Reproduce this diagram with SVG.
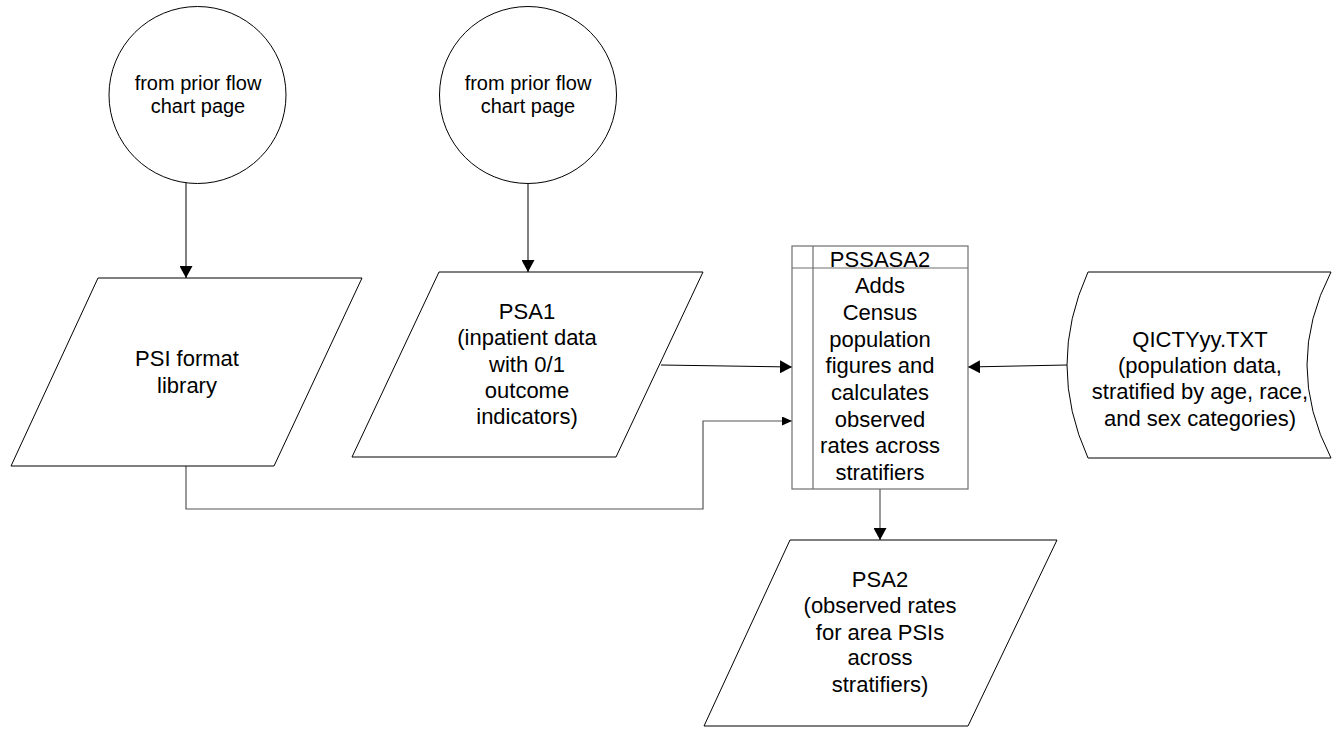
<svg xmlns="http://www.w3.org/2000/svg" width="1336" height="729" viewBox="0 0 1336 729">
<style>
.shape{fill:#fff;stroke:#000;stroke-width:1}
.gshape{fill:#fff;stroke:#6e6e6e;stroke-width:1.2}
.conn{fill:none;stroke:#000;stroke-width:1}
.gconn{fill:none;stroke:#555;stroke-width:1.2}
text{font-family:"Liberation Sans",Arial,sans-serif;fill:#000;text-anchor:middle}
.t20{font-size:20px}
.t22{font-size:22px}
</style>
<defs>
<marker id="arr" markerWidth="13" markerHeight="13" refX="12" refY="6.5" orient="auto" markerUnits="userSpaceOnUse">
<path d="M0,0 L12,6.5 L0,13 Z" fill="#000"/>
</marker>
<marker id="arrs" markerWidth="10" markerHeight="9" refX="10" refY="4.5" orient="auto" markerUnits="userSpaceOnUse">
<path d="M0,0 L10,4.5 L0,9 Z" fill="#000"/>
</marker>
</defs>
<rect width="1336" height="729" fill="#fff"/>
<g id="connectors">
<path class="conn" d="M186,183 L186,278" marker-end="url(#arr)"/>
<path class="conn" d="M528,184 L528,272" marker-end="url(#arr)"/>
<path class="conn" d="M661,365 L792,367" marker-end="url(#arr)"/>
<path class="gconn" d="M186,466 L186,509 L703,509 L703,421 L792,421" marker-end="url(#arrs)"/>
<path class="conn" d="M1067,365 L968,367" marker-end="url(#arr)"/>
<path class="gconn" d="M880,489 L880,540" marker-end="url(#arr)"/>
</g>
<g id="circle1">
<circle class="shape" cx="197.5" cy="95" r="88.5"/>
<text class="t20" x="198" y="90">from prior flow</text>
<text class="t20" x="198" y="113">chart page</text>
</g>
<g id="circle2">
<circle class="shape" cx="528" cy="95" r="88.5"/>
<text class="t20" x="528" y="90">from prior flow</text>
<text class="t20" x="528" y="113">chart page</text>
</g>
<g id="psi-format">
<polygon class="shape" points="98,278 362,278 274,466 11,466"/>
<text class="t22" x="187" y="366">PSI format</text>
<text class="t22" x="187" y="393">library</text>
</g>
<g id="psa1">
<polygon class="shape" points="439,272 703,272 616,457 352,457"/>
<text class="t22" x="527" y="319">PSA1</text>
<text class="t22" x="527" y="345">(inpatient data</text>
<text class="t22" x="527" y="371.5">with 0/1</text>
<text class="t22" x="527" y="398">outcome</text>
<text class="t22" x="527" y="424">indicators)</text>
</g>
<g id="pssasa2">
<rect class="gshape" x="792" y="246" width="176" height="243"/>
<line class="gshape" x1="813" y1="246" x2="813" y2="489"/>
<line class="gshape" x1="792" y1="268" x2="968" y2="268"/>
<text class="t22" x="880" y="267">PSSASA2</text>
<text class="t22" x="880" y="293">Adds</text>
<text class="t22" x="880" y="320">Census</text>
<text class="t22" x="880" y="347">population</text>
<text class="t22" x="880" y="373">figures and</text>
<text class="t22" x="880" y="400">calculates</text>
<text class="t22" x="880" y="427">observed</text>
<text class="t22" x="880" y="453">rates across</text>
<text class="t22" x="880" y="480">stratifiers</text>
</g>
<g id="qictyyy">
<path class="shape" d="M1088,272 L1331,272 Q1283,365 1331,458 L1088,458 Q1046,365 1088,272 Z"/>
<text class="t22" x="1200" y="347">QICTYyy.TXT</text>
<text class="t22" x="1200" y="373">(population data,</text>
<text class="t22" x="1200" y="399">stratified by age, race,</text>
<text class="t22" x="1200" y="426">and sex categories)</text>
</g>
<g id="psa2">
<polygon class="shape" points="790,540 1057,540 968,726 704,726"/>
<text class="t22" x="880" y="587">PSA2</text>
<text class="t22" x="880" y="613">(observed rates</text>
<text class="t22" x="880" y="640">for area PSIs</text>
<text class="t22" x="880" y="665">across</text>
<text class="t22" x="880" y="692">stratifiers)</text>
</g>
</svg>
